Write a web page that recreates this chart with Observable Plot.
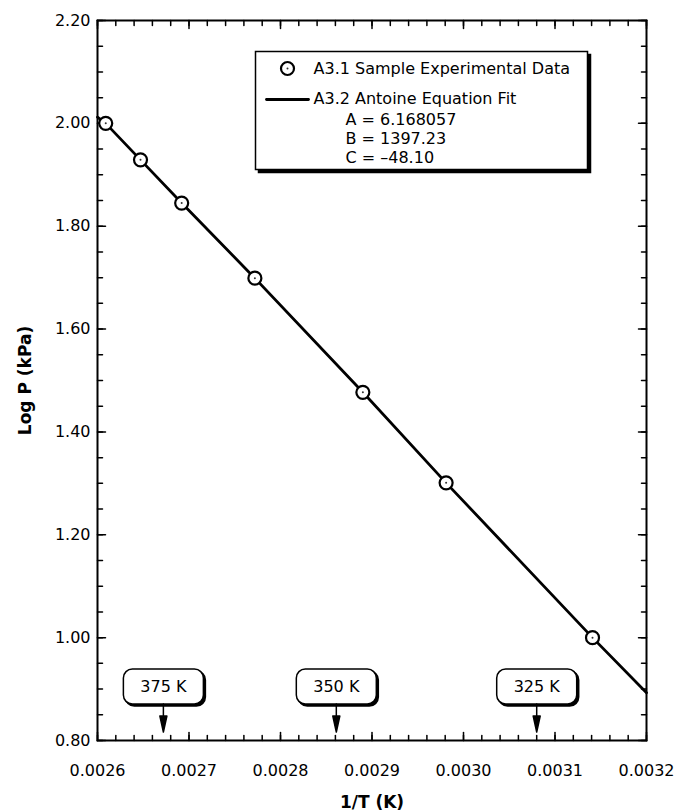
<!DOCTYPE html>
<html><head><meta charset="utf-8">
<script src="https://cdn.jsdelivr.net/npm/d3@7"></script>
<script src="https://cdn.jsdelivr.net/npm/@observablehq/plot@0.6"></script>
<style>body{margin:0;background:#fff;} svg{display:block;}</style>
</head><body><div id="chart"></div>
<script>
// Experimental data: 1/T (1/K) and log P (kPa)
const invT = [0.002609, 0.002647, 0.002692, 0.002772, 0.002890, 0.002981, 0.003141];
const logP = [2.000, 1.929, 1.845, 1.699, 1.477, 1.301, 1.000];
// Antoine fit line
const fitInvT = [0.0026, 0.002609, 0.002647, 0.002692, 0.002772, 0.002890, 0.002981, 0.003141, 0.0032];
const fitLogP = [2.012, 2.000, 1.929, 1.845, 1.699, 1.477, 1.301, 1.000, 0.893];
// Temperature markers
const markerLabels = ["375 K", "350 K", "325 K"];
const markerInvT = [0.002672, 0.002861, 0.003080];
const markerLogP = [0.905, 0.905, 0.905];
// Axes
const xTicks = [0.0026, 0.0027, 0.0028, 0.0029, 0.0030, 0.0031, 0.0032];
const xTickLabels = ["0.0026", "0.0027", "0.0028", "0.0029", "0.0030", "0.0031", "0.0032"];
const yTicks = [0.8, 1.0, 1.2, 1.4, 1.6, 1.8, 2.0, 2.2];
const yTickLabels = ["0.80", "1.00", "1.20", "1.40", "1.60", "1.80", "2.00", "2.20"];
const xLabel = "1/T (K)";
const yLabel = "Log P (kPa)";
const legendTitles = ["A3.1 Sample Experimental Data", "A3.2 Antoine Equation Fit"];
const fitParams = ["A = 6.168057", "B = 1397.23", "C = \u201348.10"];

const points = invT.map((x, i) => ({x, y: logP[i]}));
const fit = fitInvT.map((x, i) => ({x, y: fitLogP[i]}));
const markers = markerLabels.map((label, i) => ({label, x: markerInvT[i], y: markerLogP[i]}));
const xMinor = d3.range(0, 31).map(i => +(0.0026 + i * 0.00002).toFixed(6));
const yMinor = d3.range(0, 29).map(i => +(0.8 + i * 0.05).toFixed(3));

const tickShape = {draw(ctx, l) { ctx.moveTo(0, 0); ctx.lineTo(0, -l); }};
const arrowShape = {draw(ctx, l) {
  const h = 16, w = 3.5;
  ctx.moveTo(0, 0); ctx.lineTo(0, -l + h);
  ctx.moveTo(-w, -l + h); ctx.lineTo(0, -l); ctx.lineTo(w, -l + h); ctx.closePath();
}};
function roundBox(w, h, r) {
  return {draw(ctx) {
    const x0 = -w / 2, y0 = -h / 2, x1 = w / 2, y1 = h / 2;
    ctx.moveTo(x0 + r, y0);
    ctx.arcTo(x1, y0, x1, y1, r);
    ctx.arcTo(x1, y1, x0, y1, r);
    ctx.arcTo(x0, y1, x0, y0, r);
    ctx.arcTo(x0, y0, x1, y0, r);
    ctx.closePath();
  }};
}
const labelBox = roundBox(80, 35, 9);
const legendBox = roundBox(332, 118, 0);
const one = [0];

function ticksOn(side, data, len, ch) {
  const rot = {bottom: 0, top: 180, left: 90, right: -90}[side];
  return Plot.vector(data, {[ch]: d => d, frameAnchor: side, length: len, rotate: rot, anchor: "start", shape: tickShape, stroke: "black", strokeWidth: 1.5});
}

const plot = Plot.plot({
  width: 675, height: 811,
  marginLeft: 97, marginRight: 29, marginTop: 20, marginBottom: 71,
  style: {fontFamily: "DejaVu Sans, Verdana, sans-serif", fontSize: "16px", color: "black", background: "white"},
  x: {domain: [0.0026, 0.0032], axis: null},
  y: {domain: [0.8, 2.2], axis: null},
  marks: [
    // ticks (inward, all four sides)
    ticksOn("bottom", xMinor, 5, "x"), ticksOn("top", xMinor, 5, "x"),
    ticksOn("bottom", xTicks, 8, "x"), ticksOn("top", xTicks, 8, "x"),
    ticksOn("left", yMinor, 5, "y"), ticksOn("right", yMinor, 5, "y"),
    ticksOn("left", yTicks, 8, "y"), ticksOn("right", yTicks, 8, "y"),
    // tick labels
    Plot.text(xTicks, {x: d => d, frameAnchor: "bottom", dy: 30, textAnchor: "middle", lineAnchor: "middle", text: (d, i) => xTickLabels[i], fontSize: 16, fill: "black"}),
    Plot.text(yTicks, {y: d => d, frameAnchor: "left", dx: -7, textAnchor: "end", lineAnchor: "middle", text: (d, i) => yTickLabels[i], fontSize: 16, fill: "black"}),
    // axis labels
    Plot.text(one, {frameAnchor: "bottom", dy: 62, textAnchor: "middle", lineAnchor: "middle", text: () => xLabel, fontWeight: "bold", fontSize: 17, fill: "black"}),
    Plot.text(one, {frameAnchor: "left", dx: -72, rotate: -90, textAnchor: "middle", lineAnchor: "middle", text: () => yLabel, fontWeight: "bold", fontSize: 17, fill: "black"}),
    // fit line
    Plot.line(fit, {x: "x", y: "y", stroke: "black", strokeWidth: 2.8}),
    // data points
    Plot.dot(points, {x: "x", y: "y", r: 6.5, fill: "white", stroke: "black", strokeWidth: 2.2}),
    Plot.dot(points, {x: "x", y: "y", r: 1, fill: "#333", stroke: "none"}),
    // temperature markers
    Plot.dot(markers, {x: "x", y: "y", symbol: labelBox, dx: 2, dy: 2, fill: "black", stroke: "black", strokeWidth: 1.5}),
    Plot.dot(markers, {x: "x", y: "y", symbol: labelBox, fill: "white", stroke: "black", strokeWidth: 1.5}),
    Plot.text(markers, {x: "x", y: "y", text: "label", fontSize: 16, fill: "black"}),
    Plot.vector(markers, {x: "x", y: "y", dy: 17.5, length: 28, rotate: 180, anchor: "start", shape: arrowShape, stroke: "black", fill: "black", strokeWidth: 1.5}),
    // legend
    Plot.dot(one, {frameAnchor: "top-left", dx: 327, dy: 93, symbol: legendBox, fill: "black", stroke: "black"}),
    Plot.dot(one, {frameAnchor: "top-left", dx: 324, dy: 90, symbol: legendBox, fill: "white", stroke: "black", strokeWidth: 1.5}),
    Plot.dot(one, {frameAnchor: "top-left", dx: 190, dy: 48, r: 6.5, fill: "white", stroke: "black", strokeWidth: 2.2}),
    Plot.dot(one, {frameAnchor: "top-left", dx: 190, dy: 48, r: 1, fill: "#333", stroke: "none"}),
    Plot.text(one, {frameAnchor: "top-left", dx: 216, dy: 48, textAnchor: "start", lineAnchor: "middle", text: () => legendTitles[0], fontSize: 16, fill: "black"}),
    Plot.vector(one, {frameAnchor: "top-left", dx: 169, dy: 79, length: 42, rotate: 90, anchor: "start", shape: tickShape, stroke: "black", strokeWidth: 2.8}),
    Plot.text(one, {frameAnchor: "top-left", dx: 216, dy: 78, textAnchor: "start", lineAnchor: "middle", text: () => legendTitles[1], fontSize: 16, fill: "black"}),
    Plot.text(one, {frameAnchor: "top-left", dx: 248, dy: 117.5, textAnchor: "start", lineAnchor: "middle", lineHeight: 1.19, text: () => fitParams.join("\n"), fontSize: 16, fill: "black"}),
    // frame
    Plot.frame({stroke: "black", strokeWidth: 2})
  ]
});
document.getElementById("chart").appendChild(plot);
</script>
</body></html>
